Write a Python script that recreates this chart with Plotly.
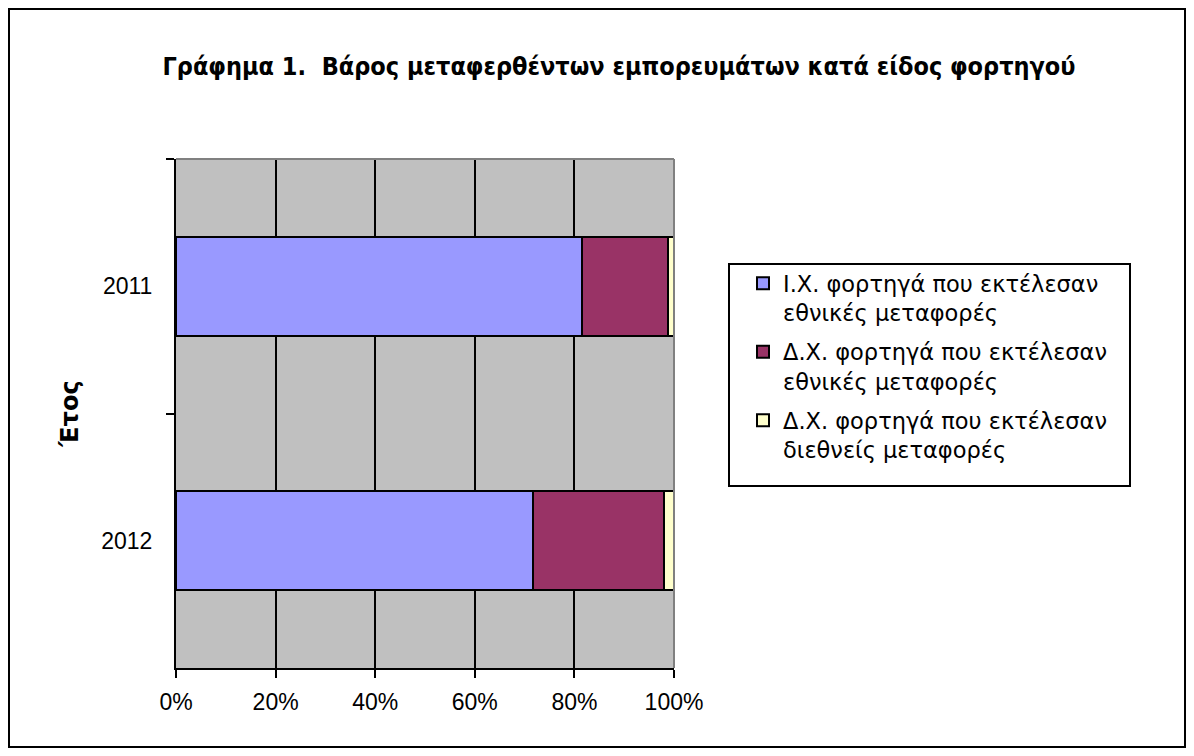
import plotly.graph_objects as go

years = ["2011", "2012"]
series_names = [
    "Ι.Χ. φορτηγά που εκτέλεσαν<br>εθνικές μεταφορές",
    "Δ.Χ. φορτηγά που εκτέλεσαν<br>εθνικές μεταφορές",
    "Δ.Χ. φορτηγά που εκτέλεσαν<br>διεθνείς μεταφορές",
]
ix_national = [81.5, 71.7]
dx_national = [17.3, 26.3]
dx_international = [1.2, 2.0]
series_values = [ix_national, dx_national, dx_international]
series_colors = ["#9999FF", "#993366", "#FFFFCC"]
x_ticks = [0, 20, 40, 60, 80, 100]
x_tick_labels = ["0%", "20%", "40%", "60%", "80%", "100%"]

title_text = "Γράφημα 1.  Βάρος μεταφερθέντων εμπορευμάτων κατά είδος φορτηγού"
y_title = "Έτος"

# page body has an 8px margin; the figure fills the framed area
OFF = 8
W, H = 1178, 740
L, R, T, B = 168, 512, 151, 80
pw, ph = W - L - R, H - T - B


def px_x(page_x):
    return (page_x - OFF - L) / pw


def px_y(page_y):
    return (H - B - (page_y - OFF)) / ph


fig = go.Figure()
for i, (name, vals, col) in enumerate(zip(series_names, series_values, series_colors)):
    fig.add_trace(go.Bar(
        y=years, x=vals, name=name, orientation="h", legendgroup=f"g{i}",
        marker=dict(color=col, line=dict(color="black", width=2)),
    ))

font_main = "DejaVu Sans"
tick_font = dict(family="Liberation Sans, Arial", size=23, color="black")
fig.update_layout(
    width=W, height=H,
    barmode="stack", bargap=0.61,
    paper_bgcolor="white", plot_bgcolor="#C0C0C0",
    margin=dict(l=L, r=R, t=T, b=B, autoexpand=False),
    font=dict(family=font_main, size=20, color="black"),
    title=dict(text="<b>" + title_text + "</b>",
               font=dict(family="DejaVu Sans Condensed, DejaVu Sans", size=25),
               x=px_x(619), xref="paper", xanchor="center",
               y=1 - (66 - OFF) / H, yref="container", yanchor="middle"),
    xaxis=dict(range=[0, 100], tickvals=x_ticks, ticktext=x_tick_labels,
               showgrid=True, gridcolor="black", gridwidth=2,
               showline=True, linecolor="black", linewidth=2,
               ticks="outside", ticklen=8, tickwidth=2, tickcolor="black",
               ticklabelstandoff=4, zeroline=False,
               tickfont=tick_font),
    yaxis=dict(autorange="reversed", type="category",
               tickson="boundaries", ticks="outside", ticklen=8, tickwidth=2,
               tickcolor="black", showline=True, linecolor="black", linewidth=2,
               showgrid=False, ticklabelstandoff=17,
               tickfont=tick_font,
               title=dict(text="<b>" + y_title + "</b>", standoff=16,
                          font=dict(family=font_main, size=24))),
    legend=dict(x=px_x(743), y=px_y(262), xanchor="left", yanchor="top",
                borderwidth=0, bgcolor="rgba(0,0,0,0)",
                valign="top", traceorder="grouped",
                font=dict(family=font_main, size=22.5), itemwidth=30,
                tracegroupgap=7),
    shapes=[
        dict(type="rect", xref="paper", yref="paper",
             x0=px_x(OFF + 1), x1=px_x(OFF + W - 1),
             y0=px_y(OFF + H - 1), y1=px_y(OFF + 1),
             line=dict(color="black", width=2), layer="below"),
        dict(type="rect", xref="paper", yref="paper",
             x0=px_x(729), x1=px_x(1130), y0=px_y(486), y1=px_y(264),
             line=dict(color="black", width=2), fillcolor="white", layer="below"),
        dict(type="line", xref="paper", yref="paper", x0=0, x1=1, y0=1, y1=1,
             line=dict(color="#808080", width=2), layer="above"),
        dict(type="line", xref="paper", yref="paper", x0=1, x1=1, y0=0, y1=1,
             line=dict(color="#808080", width=2), layer="above"),
    ],
)

fig.write_html("out.html")
